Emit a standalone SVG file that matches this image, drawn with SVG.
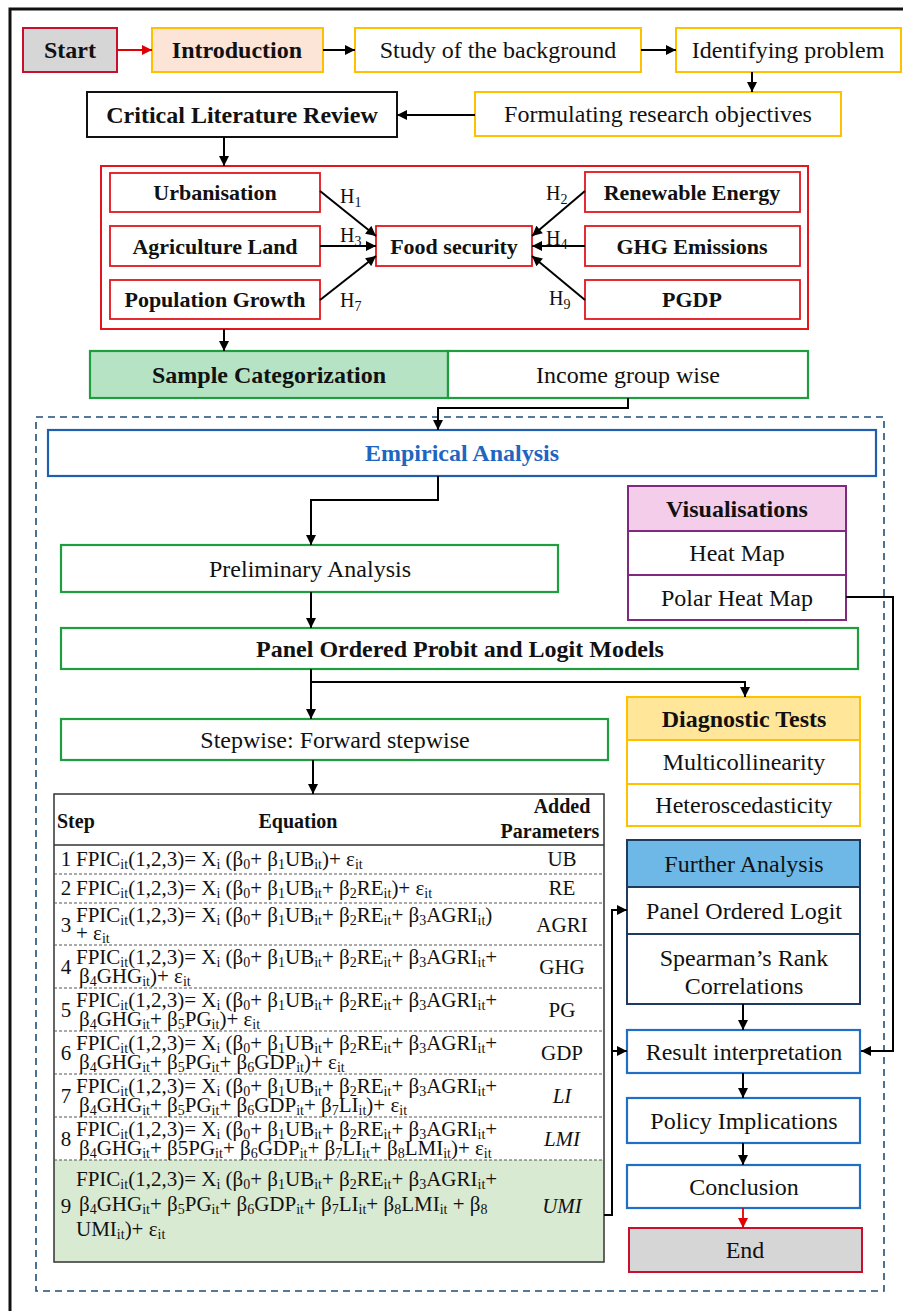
<svg xmlns="http://www.w3.org/2000/svg" width="903" height="1311" viewBox="0 0 903 1311">
<style>
text{font-family:"Liberation Serif","Times New Roman",serif;fill:#111;}
.t{font-size:24px;text-anchor:middle;}
.b{font-weight:bold;}
.h{font-size:22px;font-weight:bold;text-anchor:middle;}
.eq{font-size:21px;}
.sb{font-size:14px;baseline-shift:-3px;}
.hs{font-size:14px;baseline-shift:-4px;}
.yb{fill:#fff;stroke:#FFC000;stroke-width:2;}
.rb{fill:#fff;stroke:#E3161D;stroke-width:1.8;}
.gb{fill:#fff;stroke:#1E9E3E;stroke-width:2.2;}
.bb{fill:#fff;stroke:#1F6FC6;stroke-width:2.2;}
.nb{fill:#fff;stroke:#1F3A5F;stroke-width:2;}
.pb{fill:#fff;stroke:#7F2A7F;stroke-width:2;}
.c{fill:none;stroke:#000;stroke-width:2;}
.cr{fill:none;stroke:#E00000;stroke-width:1.8;}
.rl{stroke:#555;stroke-width:1;stroke-dasharray:3 2;}
</style>
<defs>
<marker id="a" viewBox="0 0 10 10" refX="10" refY="5" markerUnits="userSpaceOnUse" markerWidth="11" markerHeight="10" orient="auto"><path d="M0,0 L10,5 L0,10 z" fill="#000"/></marker>
<marker id="ar" viewBox="0 0 10 10" refX="10" refY="5" markerUnits="userSpaceOnUse" markerWidth="11" markerHeight="10" orient="auto"><path d="M0,0 L10,5 L0,10 z" fill="#E00000"/></marker>
</defs>
<rect width="903" height="1311" fill="#fff"/>
<path d="M10,1311 V9 H903" fill="none" stroke="#111" stroke-width="3"/>
<rect x="36" y="417" width="848" height="874" fill="none" stroke="#1F4E79" stroke-width="1.6" stroke-dasharray="7 5"/>

<g id="start"><rect x="23" y="28" width="94" height="44" fill="#D6D6D6" stroke="#C8102E" stroke-width="2"/><text class="t b" x="70" y="58">Start</text></g>
<g id="introduction"><rect x="152" y="28" width="171" height="44" fill="#FCE4D6" stroke="#FFC000" stroke-width="2"/><text class="t b" x="237" y="58">Introduction</text></g>
<g id="study"><rect class="yb" x="355" y="28" width="286" height="44"/><text class="t" x="498" y="58">Study of the background</text></g>
<g id="identifying"><rect class="yb" x="676" y="28" width="225" height="44"/><text class="t" x="788" y="58">Identifying problem</text></g>
<g id="formulating"><rect class="yb" x="475" y="92" width="366" height="44"/><text class="t" x="658" y="122">Formulating research objectives</text></g>
<g id="literature"><rect x="87" y="92" width="310" height="45" fill="#fff" stroke="#111" stroke-width="2"/><text class="t b" x="242" y="123">Critical Literature Review</text></g>

<g id="hypotheses">
<rect x="101" y="166" width="707" height="163" fill="none" stroke="#E3161D" stroke-width="2"/>
<g id="urbanisation"><rect class="rb" x="110" y="173" width="210" height="39"/><text class="h" x="215" y="200">Urbanisation</text></g>
<g id="agriculture"><rect class="rb" x="110" y="226" width="210" height="40"/><text class="h" x="215" y="254">Agriculture Land</text></g>
<g id="population"><rect class="rb" x="110" y="280" width="210" height="39"/><text class="h" x="215" y="307">Population Growth</text></g>
<g id="food"><rect class="rb" x="376" y="226" width="156" height="40"/><text class="h" x="454" y="254">Food security</text></g>
<g id="renewable"><rect class="rb" x="585" y="172" width="215" height="40"/><text class="h" x="692" y="200">Renewable Energy</text></g>
<g id="ghg"><rect class="rb" x="585" y="226" width="215" height="40"/><text class="h" x="692" y="254">GHG Emissions</text></g>
<g id="pgdp"><rect class="rb" x="585" y="280" width="215" height="39"/><text class="h" x="692" y="307">PGDP</text></g>
<text x="340" y="203" style="font-size:20px">H<tspan class="hs">1</tspan></text>
<text x="340" y="242" style="font-size:20px">H<tspan class="hs">3</tspan></text>
<text x="340" y="307" style="font-size:20px">H<tspan class="hs">7</tspan></text>
<text x="546" y="200" style="font-size:20px">H<tspan class="hs">2</tspan></text>
<text x="546" y="245" style="font-size:20px">H<tspan class="hs">4</tspan></text>
<text x="549" y="305" style="font-size:20px">H<tspan class="hs">9</tspan></text>
</g>

<g id="sample"><rect x="90" y="351" width="358" height="47" fill="#B5E3C4" stroke="#1E9E3E" stroke-width="2.2"/><text class="t b" x="269" y="383">Sample Categorization</text></g>
<g id="income"><rect class="gb" x="448" y="351" width="360" height="47"/><text class="t" x="628" y="383">Income group wise</text></g>

<g id="empirical"><rect x="48" y="430" width="828" height="46" fill="#fff" stroke="#1F5FAD" stroke-width="2.2"/><text class="t b" x="462" y="461" style="fill:#1F66C1">Empirical Analysis</text></g>

<g id="visualisations">
<rect x="628" y="486" width="218" height="45" fill="#F3CDE9" stroke="#7F2A7F" stroke-width="2"/><text class="t b" x="737" y="517">Visualisations</text>
<rect class="pb" x="628" y="531" width="218" height="44"/><text class="t" x="737" y="561">Heat Map</text>
<rect class="pb" x="628" y="575" width="218" height="45"/><text class="t" x="737" y="606">Polar Heat Map</text>
</g>

<g id="preliminary"><rect class="gb" x="61" y="545" width="497" height="47"/><text class="t" x="310" y="577">Preliminary Analysis</text></g>
<g id="panel"><rect class="gb" x="61" y="628" width="797" height="41"/><text class="t b" x="460" y="657">Panel Ordered Probit and Logit Models</text></g>
<g id="stepwise"><rect class="gb" x="61" y="719" width="547" height="41"/><text class="t" x="335" y="748">Stepwise: Forward stepwise</text></g>

<g id="diagnostic">
<rect x="627" y="697" width="233" height="43" fill="#FFE699" stroke="#FFC000" stroke-width="2"/><text class="t b" x="744" y="727">Diagnostic Tests</text>
<rect class="yb" x="627" y="740" width="233" height="44"/><text class="t" x="744" y="770">Multicollinearity</text>
<rect class="yb" x="627" y="784" width="233" height="42"/><text class="t" x="744" y="813">Heteroscedasticity</text>
</g>

<g id="further">
<rect x="627" y="840" width="233" height="47" fill="#6DB8E6" stroke="#1F3A5F" stroke-width="2"/><text class="t" x="744" y="872">Further Analysis</text>
<rect class="nb" x="627" y="887" width="233" height="47"/><text class="t" x="744" y="919">Panel Ordered Logit</text>
<rect class="nb" x="627" y="934" width="233" height="70"/><text class="t" x="744" y="966">Spearman’s Rank</text><text class="t" x="744" y="994">Correlations</text>
</g>

<g id="result"><rect class="bb" x="627" y="1030" width="233" height="43"/><text class="t" x="744" y="1060">Result interpretation</text></g>
<g id="policy"><rect class="bb" x="627" y="1098" width="233" height="45"/><text class="t" x="744" y="1129">Policy Implications</text></g>
<g id="conclusion"><rect class="bb" x="627" y="1165" width="233" height="43"/><text class="t" x="744" y="1195">Conclusion</text></g>
<g id="end"><rect x="629" y="1228" width="233" height="44" fill="#D6D6D6" stroke="#C8102E" stroke-width="2"/><text class="t" x="745" y="1258">End</text></g>

<g id="table">
<rect x="54" y="1160" width="550" height="102" fill="#D9EAD3"/>
<rect x="54" y="794" width="550" height="468" fill="none" stroke="#333" stroke-width="1.5"/>
<line x1="54" y1="845" x2="604" y2="845" stroke="#333" stroke-width="1.5"/>
<line class="rl" x1="54" y1="874" x2="604" y2="874"/>
<line class="rl" x1="54" y1="903" x2="604" y2="903"/>
<line class="rl" x1="54" y1="945" x2="604" y2="945"/>
<line class="rl" x1="54" y1="988" x2="604" y2="988"/>
<line class="rl" x1="54" y1="1031" x2="604" y2="1031"/>
<line class="rl" x1="54" y1="1074" x2="604" y2="1074"/>
<line class="rl" x1="54" y1="1117" x2="604" y2="1117"/>
<line class="rl" x1="54" y1="1160" x2="604" y2="1160"/>
<text class="b" x="57" y="828" style="font-size:20px">Step</text>
<text class="b" x="298" y="828" style="font-size:20px;text-anchor:middle">Equation</text>
<text class="b" x="562" y="813" style="font-size:20px;text-anchor:middle">Added</text>
<text class="b" x="550" y="838" style="font-size:20px;text-anchor:middle">Parameters</text>
<g style="font-size:21px;text-anchor:middle">
<text x="66" y="866">1</text><text x="66" y="895">2</text><text x="66" y="932">3</text><text x="66" y="974">4</text><text x="66" y="1017">5</text><text x="66" y="1060">6</text><text x="66" y="1103">7</text><text x="66" y="1146">8</text><text x="66" y="1213">9</text>
<text x="562" y="866">UB</text><text x="562" y="895">RE</text><text x="562" y="932">AGRI</text><text x="562" y="974">GHG</text><text x="562" y="1017">PG</text><text x="562" y="1060">GDP</text>
<text x="562" y="1103" font-style="italic">LI</text><text x="562" y="1146" font-style="italic">LMI</text><text x="562" y="1213" font-style="italic">UMI</text>
</g>
<g class="eq">
<text class="eq" x="76" y="866">FPIC<tspan class="sb">it</tspan>(1,2,3)= X<tspan class="sb">i</tspan> (β<tspan class="sb">0</tspan>+ β<tspan class="sb">1</tspan>UB<tspan class="sb">it</tspan>)+ ε<tspan class="sb">it</tspan></text>
<text class="eq" x="76" y="895">FPIC<tspan class="sb">it</tspan>(1,2,3)= X<tspan class="sb">i</tspan> (β<tspan class="sb">0</tspan>+ β<tspan class="sb">1</tspan>UB<tspan class="sb">it</tspan>+ β<tspan class="sb">2</tspan>RE<tspan class="sb">it</tspan>)+ ε<tspan class="sb">it</tspan></text>
<text class="eq" x="76" y="922">FPIC<tspan class="sb">it</tspan>(1,2,3)= X<tspan class="sb">i</tspan> (β<tspan class="sb">0</tspan>+ β<tspan class="sb">1</tspan>UB<tspan class="sb">it</tspan>+ β<tspan class="sb">2</tspan>RE<tspan class="sb">it</tspan>+ β<tspan class="sb">3</tspan>AGRI<tspan class="sb">it</tspan>)</text>
<text class="eq" x="76" y="940">+ ε<tspan class="sb">it</tspan></text>
<text class="eq" x="76" y="964">FPIC<tspan class="sb">it</tspan>(1,2,3)= X<tspan class="sb">i</tspan> (β<tspan class="sb">0</tspan>+ β<tspan class="sb">1</tspan>UB<tspan class="sb">it</tspan>+ β<tspan class="sb">2</tspan>RE<tspan class="sb">it</tspan>+ β<tspan class="sb">3</tspan>AGRI<tspan class="sb">it</tspan>+</text>
<text class="eq" x="79" y="983">β<tspan class="sb">4</tspan>GHG<tspan class="sb">it</tspan>)+ ε<tspan class="sb">it</tspan></text>
<text class="eq" x="76" y="1007">FPIC<tspan class="sb">it</tspan>(1,2,3)= X<tspan class="sb">i</tspan> (β<tspan class="sb">0</tspan>+ β<tspan class="sb">1</tspan>UB<tspan class="sb">it</tspan>+ β<tspan class="sb">2</tspan>RE<tspan class="sb">it</tspan>+ β<tspan class="sb">3</tspan>AGRI<tspan class="sb">it</tspan>+</text>
<text class="eq" x="79" y="1026">β<tspan class="sb">4</tspan>GHG<tspan class="sb">it</tspan>+ β<tspan class="sb">5</tspan>PG<tspan class="sb">it</tspan>)+ ε<tspan class="sb">it</tspan></text>
<text class="eq" x="76" y="1050">FPIC<tspan class="sb">it</tspan>(1,2,3)= X<tspan class="sb">i</tspan> (β<tspan class="sb">0</tspan>+ β<tspan class="sb">1</tspan>UB<tspan class="sb">it</tspan>+ β<tspan class="sb">2</tspan>RE<tspan class="sb">it</tspan>+ β<tspan class="sb">3</tspan>AGRI<tspan class="sb">it</tspan>+</text>
<text class="eq" x="79" y="1069">β<tspan class="sb">4</tspan>GHG<tspan class="sb">it</tspan>+ β<tspan class="sb">5</tspan>PG<tspan class="sb">it</tspan>+ β<tspan class="sb">6</tspan>GDP<tspan class="sb">it</tspan>)+ ε<tspan class="sb">it</tspan></text>
<text class="eq" x="76" y="1093">FPIC<tspan class="sb">it</tspan>(1,2,3)= X<tspan class="sb">i</tspan> (β<tspan class="sb">0</tspan>+ β<tspan class="sb">1</tspan>UB<tspan class="sb">it</tspan>+ β<tspan class="sb">2</tspan>RE<tspan class="sb">it</tspan>+ β<tspan class="sb">3</tspan>AGRI<tspan class="sb">it</tspan>+</text>
<text class="eq" x="79" y="1112">β<tspan class="sb">4</tspan>GHG<tspan class="sb">it</tspan>+ β<tspan class="sb">5</tspan>PG<tspan class="sb">it</tspan>+ β<tspan class="sb">6</tspan>GDP<tspan class="sb">it</tspan>+ β<tspan class="sb">7</tspan>LI<tspan class="sb">it</tspan>)+ ε<tspan class="sb">it</tspan></text>
<text class="eq" x="76" y="1136">FPIC<tspan class="sb">it</tspan>(1,2,3)= X<tspan class="sb">i</tspan> (β<tspan class="sb">0</tspan>+ β<tspan class="sb">1</tspan>UB<tspan class="sb">it</tspan>+ β<tspan class="sb">2</tspan>RE<tspan class="sb">it</tspan>+ β<tspan class="sb">3</tspan>AGRI<tspan class="sb">it</tspan>+</text>
<text class="eq" x="79" y="1155">β<tspan class="sb">4</tspan>GHG<tspan class="sb">it</tspan>+ β5PG<tspan class="sb">it</tspan>+ β<tspan class="sb">6</tspan>GDP<tspan class="sb">it</tspan>+ β<tspan class="sb">7</tspan>LI<tspan class="sb">it</tspan>+ β<tspan class="sb">8</tspan>LMI<tspan class="sb">it</tspan>)+ ε<tspan class="sb">it</tspan></text>
<text class="eq" x="76" y="1186">FPIC<tspan class="sb">it</tspan>(1,2,3)= X<tspan class="sb">i</tspan> (β<tspan class="sb">0</tspan>+ β<tspan class="sb">1</tspan>UB<tspan class="sb">it</tspan>+ β<tspan class="sb">2</tspan>RE<tspan class="sb">it</tspan>+ β<tspan class="sb">3</tspan>AGRI<tspan class="sb">it</tspan>+</text>
<text class="eq" x="79" y="1211">β<tspan class="sb">4</tspan>GHG<tspan class="sb">it</tspan>+ β<tspan class="sb">5</tspan>PG<tspan class="sb">it</tspan>+ β<tspan class="sb">6</tspan>GDP<tspan class="sb">it</tspan>+ β<tspan class="sb">7</tspan>LI<tspan class="sb">it</tspan>+ β<tspan class="sb">8</tspan>LMI<tspan class="sb">it</tspan> + β<tspan class="sb">8</tspan></text>
<text class="eq" x="76" y="1236">UMI<tspan class="sb">it</tspan>)+ ε<tspan class="sb">it</tspan></text>
</g>
</g>

<g id="connectors">
<path class="cr" d="M117,50 H152" marker-end="url(#ar)"/>
<path class="c" d="M323,50 H355" marker-end="url(#a)"/>
<path class="c" d="M641,50 H676" marker-end="url(#a)"/>
<path class="c" d="M752,72 V92" marker-end="url(#a)"/>
<path class="c" d="M475,115 H397" marker-end="url(#a)"/>
<path class="c" d="M224,137 V166" marker-end="url(#a)"/>
<path class="c" d="M320,191 L376,236" marker-end="url(#a)"/>
<path class="c" d="M320,246 H376" marker-end="url(#a)"/>
<path class="c" d="M320,300 L376,256" marker-end="url(#a)"/>
<path class="c" d="M585,191 L532,236" marker-end="url(#a)"/>
<path class="c" d="M585,246 H532" marker-end="url(#a)"/>
<path class="c" d="M585,300 L532,256" marker-end="url(#a)"/>
<path class="c" d="M224,329 V351" marker-end="url(#a)"/>
<path class="c" d="M628,398 V408 H438 V430" marker-end="url(#a)"/>
<path class="c" d="M438,476 V500 H311 V545" marker-end="url(#a)"/>
<path class="c" d="M311,592 V628" marker-end="url(#a)"/>
<path class="c" d="M311,669 V719" marker-end="url(#a)"/>
<path class="c" d="M311,682 H745 V697" marker-end="url(#a)"/>
<path class="c" d="M313,760 V794" marker-end="url(#a)"/>
<path class="c" d="M604,1215 H612 V910 H627" marker-end="url(#a)"/>
<path class="c" d="M612,1051 H627" marker-end="url(#a)"/>
<path class="c" d="M846,597 H893 V1051 H861" marker-end="url(#a)"/>
<path class="c" d="M743,1004 V1030" marker-end="url(#a)"/>
<path class="c" d="M743,1073 V1098" marker-end="url(#a)"/>
<path class="c" d="M743,1143 V1165" marker-end="url(#a)"/>
<path class="cr" d="M743,1208 V1228" marker-end="url(#ar)"/>
</g>
</svg>
